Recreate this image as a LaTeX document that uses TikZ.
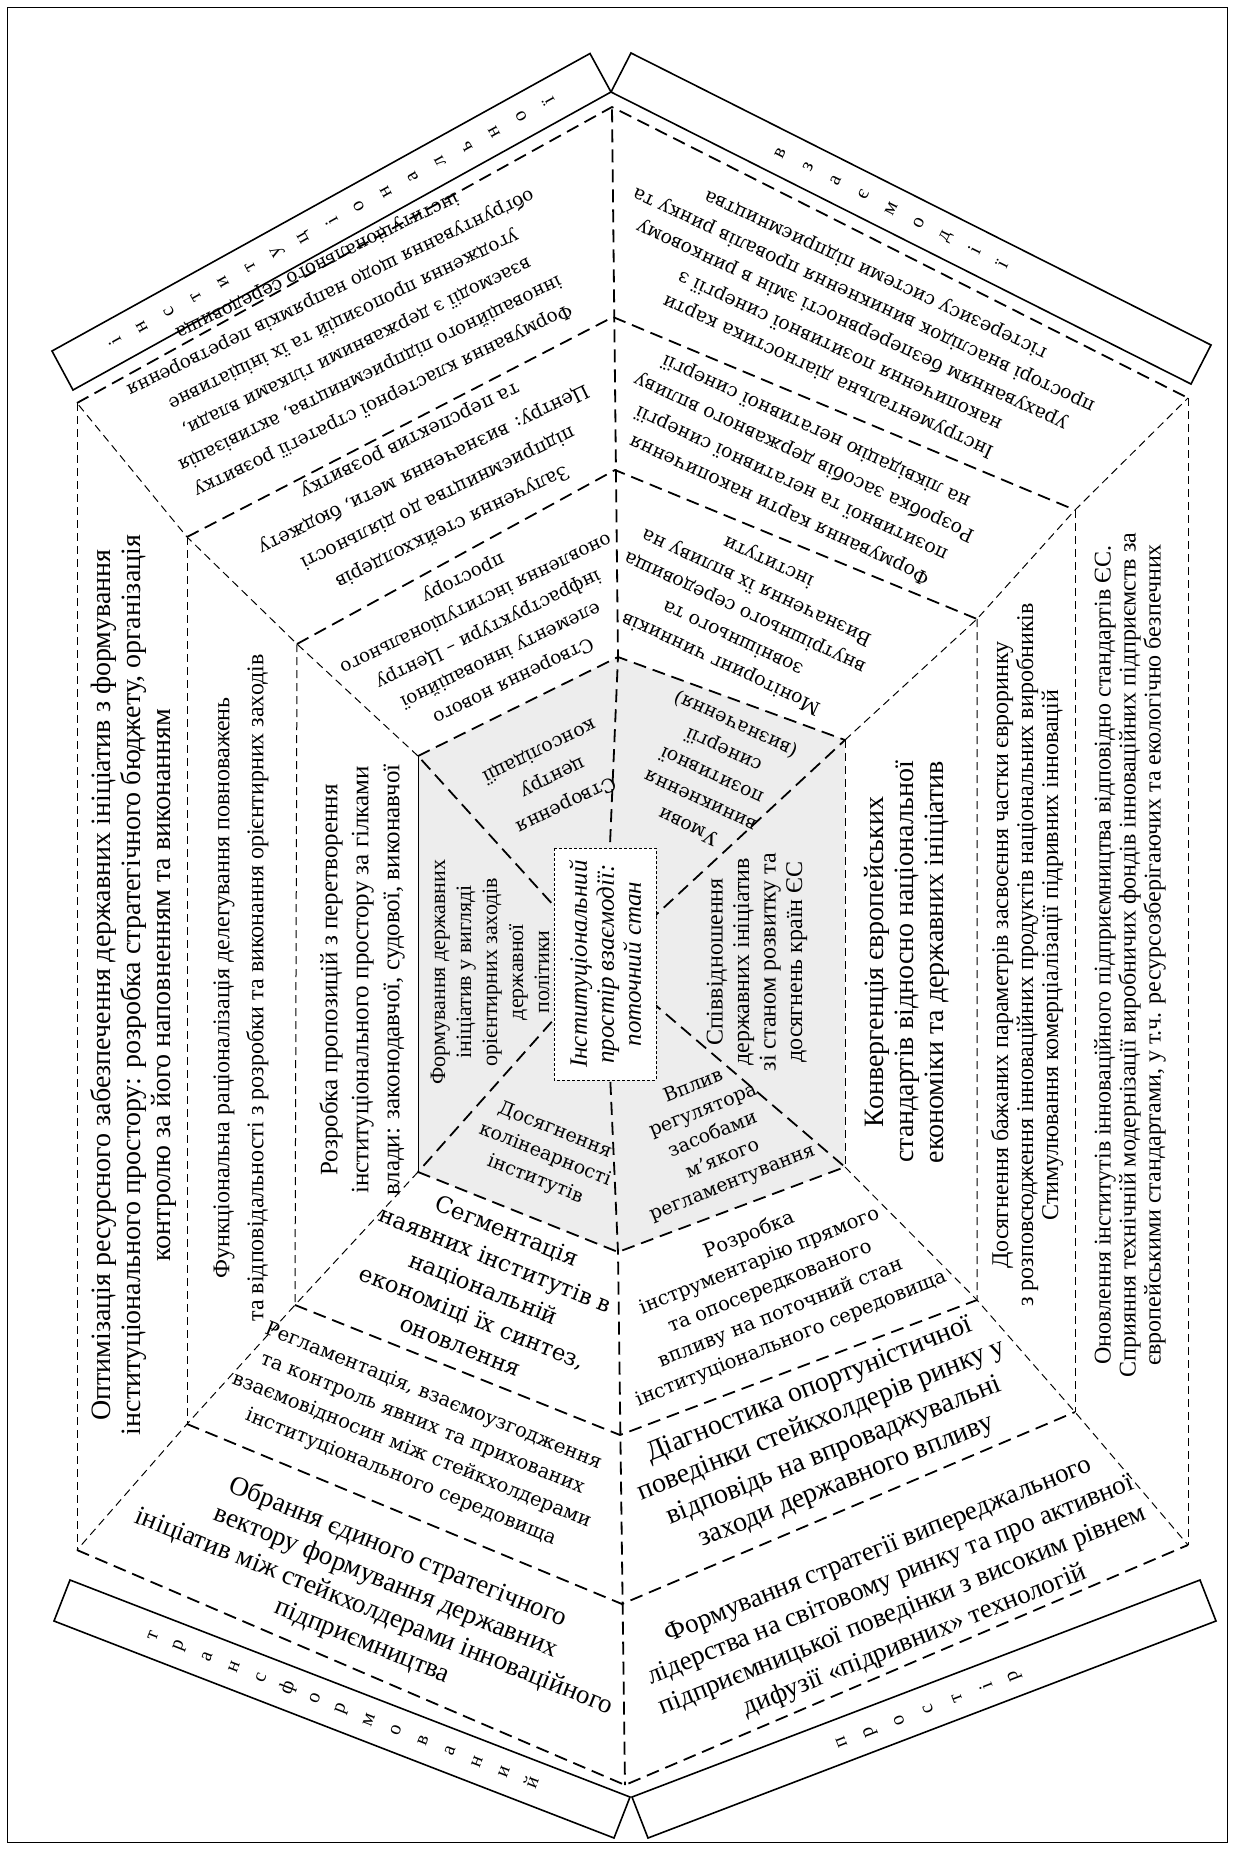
\documentclass[tikz,border=0pt]{standalone}
\usepackage{fontspec}
\setmainfont{Liberation Serif}
\newfontfamily\bkm{DejaVu Serif}
\newcommand{\fsz}[2]{\fontsize{#1}{#2}\selectfont}
\usetikzlibrary{calc}
\tikzset{
  dsh/.style={line width=0.9pt, dash pattern=on 6.5pt off 3.5pt},
  dshthin/.style={line width=0.5pt, dash pattern=on 4pt off 2.5pt},
  lblbox/.style={line width=0.8pt},
  txt/.style={align=center, inner sep=0pt},
  ltr/.style={inner sep=0pt, font=\fsz{10}{10}},
}

\begin{document}
\begin{tikzpicture}[x=0.5pt, y=-0.5pt]
  \useasboundingbox (0,0) rectangle (1234,1849);
  \draw[line width=0.5pt] (7,7) rectangle (1227,1842);

  % hexagon corners: 0 = grey core ... 3 = outer ring
  \coordinate (c) at (605,962);
  \coordinate (t0) at (618,657);   \coordinate (t1) at (615,470);   \coordinate (t2) at (613,317);   \coordinate (t3) at (612,107);
  \coordinate (b0) at (618,1252);  \coordinate (b1) at (620,1435);  \coordinate (b2) at (622,1604);  \coordinate (b3) at (625,1785);
  \coordinate (tl0) at (418,756);  \coordinate (tl1) at (297,644);  \coordinate (tl2) at (187,537);  \coordinate (tl3) at (77,403);
  \coordinate (bl0) at (418,1172); \coordinate (bl1) at (295,1305); \coordinate (bl2) at (187,1424); \coordinate (bl3) at (77,1550);
  \coordinate (tr0) at (845,740);  \coordinate (tr1) at (977,619);  \coordinate (tr2) at (1075,510); \coordinate (tr3) at (1188,398);
  \coordinate (br0) at (845,1167); \coordinate (br1) at (977,1300); \coordinate (br2) at (1075,1412); \coordinate (br3) at (1188,1545);

  \fill[black!7] (t0)--(tr0)--(br0)--(b0)--(bl0)--(tl0)--cycle;

  \foreach \n in {0,1,2,3}
    \draw[dsh] (tl\n)--(t\n)--(tr\n) (bl\n)--(b\n)--(br\n);
  \foreach \n in {1,2,3}
    \draw[dshthin] (tl\n)--(bl\n) (tr\n)--(br\n);
  \draw[line width=0.5pt] (tl0)--(bl0);
  \draw[dshthin] (tr0)--(br0);

  % spokes
  \draw[dsh] (c)--(t0)--(t3) (c)--(b0)--(b3);
  \draw[dsh] (c)--(tl0) (c)--(tr0) (c)--(bl0) (c)--(br0);
  \draw[dshthin] (tl0)--(tl1)--(tl2)--(tl3) (bl0)--(bl1)--(bl2)--(bl3)
                 (tr0)--(tr1)--(tr2)--(tr3) (br0)--(br1)--(br2)--(br3);

  % centre
  \draw[fill=white, line width=0.5pt, dash pattern=on 1.5pt off 1pt] (554,848) rectangle (656,1080);
  \node[txt, rotate=90, font=\itshape\fsz{12.5}{13.5}] (centre) at (605,964)
    {Інституціональний\\простір взаємодії:\\поточний стан};

  % left sector
  \node[txt, rotate=90, font=\fsz{11}{13}] (gl) at (490,972)
    {Формування державних\\ініціатив  у вигляді\\орієнтирних заходів\\державної\\політики};
  \node[txt, rotate=90, font=\fsz{12.5}{15.5}] (l1) at (362,980)
    {Розробка пропозицій з перетворення\\інституціонального простору за гілками\\влади: законодавчої, судової, виконавчої};
  \node[txt, rotate=90, font=\fsz{12}{17}] (l2) at (241,988)
    {Функціональна раціоналізація делегування повноважень\\та відповідальності з розробки та виконання орієнтирних заходів};
  \node[txt, rotate=90, font=\fsz{14}{15}] (l3) at (133,985)
    {Оптимізація ресурсного забезпечення державних ініціатив з формування\\інституціонального простору: розробка стратегічного бюджету, організація\\контролю за його наповненням та виконанням};

  % right sector
  \node[txt, rotate=90, font=\fsz{12}{13.25}] (gr) at (757,962)
    {Співвідношення\\державних ініціатив\\зі станом розвитку та\\досягнень країн ЄС};
  \node[txt, rotate=90, font=\fsz{14}{15}] (r1) at (907,962)
    {Конвергенція європейських\\стандартів відносно національної\\економіки та державних ініціатив};
  \node[txt, rotate=90, font=\fsz{12}{12.5}] (r2) at (1027,955)
    {Досягнення бажаних параметрів засвоєння частки євроринку\\з розповсюдження інноваційних продуктів національних виробників\\Стимулювання комерціалізації підривних інновацій};
  \node[txt, rotate=90, font=\fsz{12}{12.5}] (r3) at (1130,955)
    {Оновлення інститутів інноваційного підприємництва відповідно стандартів ЄС.\\Сприяння технічній модернізації виробничих фондів інноваційних підприємств за\\європейськими стандартами, у т.ч. ресурсозберігаючих та екологічно безпечних};

  % top-left sector
  \node[txt, rotate=206, font=\bkm\fsz{9.5}{15}] (gtl) at (553,778)
    {Створення\\центру\\консолідації};
  \node[txt, rotate=206, font=\bkm\fsz{9.2}{14.25}] (tl1txt) at (488,629)
    {Створення нового\\елементу інноваційної\\інфраструктури – Центру\\оновлення інституціонального\\простору};
  \node[txt, rotate=206, font=\bkm\fsz{9.5}{16}] (tl2txt) at (431,483)
    {Залучення стейкхолдерів\\підприємництва до діяльності\\Центру: визначення мети, бюджету\\та перспектив розвитку};
  \node[txt, rotate=206, font=\bkm\fsz{9.2}{15}] (tl3txt) at (350,333)
    {Формування кластерної стратегії розвитку\\інноваційного підприємництва, активізація\\взаємодії з державними гілками влади,\\угодження пропозицій та їх ініціативне\\обґрунтування щодо напрямків перетворення\\інституціонального середовища};

  % top-right sector
  \node[txt, rotate=155, font=\bkm\fsz{9.5}{14}] (gtr) at (712,775)
    {Умови\\виникнення\\позитивної\\синергії\\(визначення)};
  \node[txt, rotate=155, font=\bkm\fsz{9.5}{14}] (tr1txt) at (745,612)
    {Моніторинг чинників\\зовнішнього та\\внутрішнього середовища\\Визначення їх впливу на\\інститути};
  \node[txt, rotate=155, font=\bkm\fsz{9.5}{14.5}] (tr2txt) at (798,470)
    {Формування карти накопичення\\позитивної та негативної синергії\\Розробка засобів державного впливу\\на ліквідацію негативної синергії};
  \node[txt, rotate=155, font=\bkm\fsz{9.5}{14}] (tr3txt) at (852,325)
    {Інструментальна діагностика карти\\накопичення позитивної синергії з\\урахуванням безперервності змін в ринковому\\просторі внаслідок виникнення провалів ринку та\\гістерезису системи підприємництва};

  % bottom-left sector
  \node[txt, rotate=-22, font=\bkm\fsz{9.5}{13.25}] (gbl) at (545,1155)
    {Досягнення\\колінеарності\\інститутів};
  \node[txt, rotate=-22, font=\bkm\fsz{11.4}{15.5}] (bl1txt) at (484,1288)
    {Сегментація\\наявних інститутів в\\національній\\економіці їх синтез,\\оновлення};
  \node[txt, rotate=-22, font=\bkm\fsz{9.8}{14.5}] (bl2txt) at (417,1437)
    {Регламентація, взаємоузгодження\\та контроль явних та прихованих\\взаємовідносин між стейкхолдерами\\інституціонального середовища};
  \node[txt, rotate=-22, font=\fsz{13.5}{16}] (bl3txt) at (380,1597)
    {Обрання єдиного стратегічного\\вектору формування державних\\ініціатив між стейкхолдерами інноваційного\\підприємництва};

  % bottom-right sector
  \node[txt, rotate=22, font=\bkm\fsz{9.5}{13}] (gbr) at (713,1135)
    {Вплив\\регулятора\\засобами\\м’якого\\регламентування};
  \node[txt, rotate=22, font=\bkm\fsz{9.8}{14}] (br1txt) at (770,1287)
    {Розробка\\інструментарію прямого\\та опосередкованого\\впливу  на поточний стан\\інституціонального середовища};
  \node[txt, rotate=22, font=\fsz{14}{16.5}] (br2txt) at (828,1436)
    {Діагностика опортуністичної\\поведінки стейкхолдерів ринку у\\відповідь на впроваджувальні\\заходи державного впливу};
  \node[txt, rotate=22, font=\fsz{13.5}{16.2}] (br3txt) at (897,1596)
    {Формування стратегії випереджального\\лідерства на світовому ринку та про активної\\підприємницької поведінки з високим рівнем\\дифузії «підривних» технологій};

  % label boxes
  \draw[lblbox] (52,351)--(73,390)--(611,92)--(590,53.5)--cycle;
  \draw[lblbox] (611,92)--(1191,384)--(1211,345)--(631,53)--cycle;
  \draw[lblbox] (70,1580)--(630,1797)--(614,1838)--(54,1621)--cycle;
  \draw[lblbox] (632,1797)--(1200,1580)--(1216,1621)--(648,1838)--cycle;

  \coordinate (lbtl) at (331.5,221.6);
  \coordinate (lbtr) at (891,208.6);
  \coordinate (lbbl) at (342,1709);
  \coordinate (lbbr) at (928,1709);
  \foreach \l [count=\i] in {і,н,с,т,и,т,у,ц,і,о,н,а,л,ь,н,о,ї}
    \node[ltr, rotate=119] (ltl-\i) at ($(lbtl)+({(\i-9)*27.1},{(\i-9)*(-15.0)})$) {\l};
  \foreach \l [count=\i] in {в,з,а,є,м,о,д,і,ї}
    \node[ltr, rotate=63.3] (ltr-\i) at ($(lbtr)+({(\i-5)*27.7},{(\i-5)*13.95})$) {\l};
  \foreach \l [count=\i] in {т,р,а,н,с,ф,о,р,м,о,в,а,н,и,й}
    \node[ltr, rotate=68.8] (lbl-\i) at ($(lbbl)+({(\i-8)*27.0},{(\i-8)*10.5})$) {\l};
  \foreach \l [count=\i] in {п,р,о,с,т,і,р}
    \node[ltr, rotate=111.2] (lbr-\i) at ($(lbbr)+({(\i-4)*28.9},{(\i-4)*(-11.2)})$) {\l};
\end{tikzpicture}
\end{document}
